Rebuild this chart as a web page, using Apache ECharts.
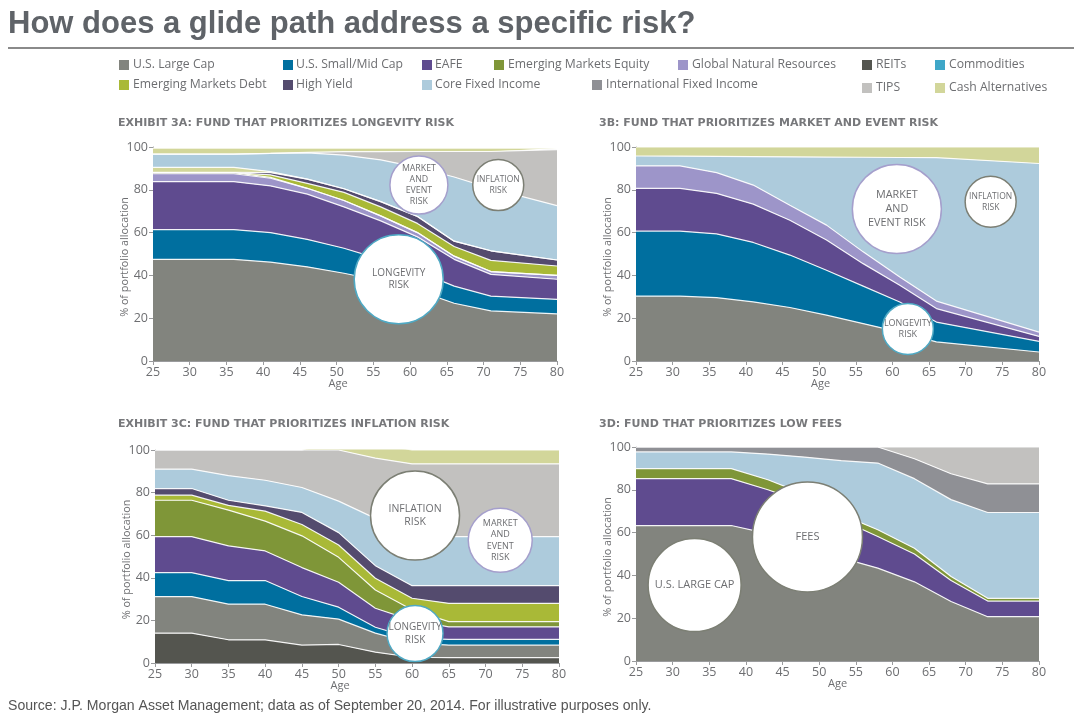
<!DOCTYPE html>
<html>
<head>
<meta charset="utf-8">
<title>Glide path risk</title>
<script src="https://cdn.jsdelivr.net/npm/echarts@6/dist/echarts.min.js"></script>
<style>
  html, body { margin: 0; padding: 0; background: #fff; }
  #chart { width: 1074px; height: 718px; }
</style>
</head>
<body>
<div id="chart"></div>
<script>
// ---------------- data (band thickness, % of portfolio) ----------------

const agesA = [25, 36, 41, 46, 51, 56, 61, 66, 71, 80];
const a_largeCap = [47.5, 47.5, 46.2, 44, 41, 37.5, 33, 27, 23.4, 22];
const a_smallMid = [13.9, 13.9, 13.8, 12.8, 11.7, 10, 9, 8, 6.9, 6.8];
const a_eafe = [22.4, 22.4, 21.8, 21.2, 19.3, 18, 16, 12.5, 10.2, 9.4];
const a_natRes = [3.7, 3.7, 3.6, 2.7, 3, 2.3, 2, 1.5, 1.3, 1.8];
const a_reits = [0.5, 0.5, 0.4, 0, 0, 0, 0, 0, 0, 0];
const a_emDebt = [0, 0, 1.2, 2.3, 3.8, 4.2, 4.3, 4.5, 5.2, 4.4];
const a_highYield = [0.2, 0.2, 1, 2, 1.7, 2.5, 3.2, 2.5, 4.5, 2.8];
const a_cashLow = [2.3, 2.3, 0.5, 0, 0, 0, 0, 0, 0, 0];
const a_core = [6.2, 6.2, 8.5, 12.3, 15.7, 19.5, 23, 30, 29.2, 25.4];
const a_tips = [0, 0, 0, 0.2, 1.6, 3.8, 7.4, 11.9, 17.2, 26.2];
const a_cash = [2.8, 2.8, 2.5, 2, 1.7, 1.7, 1.6, 1.6, 1.6, 0.7];

const agesB = [25, 31, 36, 41, 46, 51, 56, 61, 66, 80];
const b_largeCap = [30.3, 30.3, 29.6, 27.6, 25, 21.4, 17.5, 13.5, 8.9, 4.2];
const b_smallMid = [30.4, 30.4, 29.8, 27.8, 24.5, 21, 17.5, 14.1, 9.3, 5];
const b_eafe = [20, 20, 18.9, 17.9, 16.3, 14.1, 10.5, 7.8, 6.3, 2.3];
const b_natRes = [10.5, 10.5, 9.7, 8.9, 7, 7, 5.5, 3.9, 3.5, 2];
const b_core = [4.6, 4.5, 7.6, 13.3, 22.6, 31.8, 44.2, 55.8, 67, 78.8];
const b_cash = [4.2, 4.3, 4.4, 4.5, 4.6, 4.7, 4.8, 4.9, 5, 7.7];

const agesC = [25, 30, 35, 40, 45, 50, 55, 60, 65, 80];
const c_reits = [14, 14, 10.9, 10.9, 8.4, 8.7, 5.1, 2.7, 2.5, 2.5];
const c_largeCap = [17.2, 17.2, 16.7, 16.7, 14.2, 11.9, 8.9, 6.7, 5.9, 5.9];
const c_smallMid = [11.2, 11.2, 11.1, 11.1, 8.6, 5.6, 2.8, 2.3, 2.7, 2.7];
const c_eafe = [16.9, 16.9, 16.3, 13.9, 13.6, 11.7, 8.9, 8.3, 5.9, 5.9];
const c_emEquity = [17.1, 17.1, 16.8, 14, 14.9, 11.7, 8.6, 5, 2.4, 2.4];
const c_emDebt = [2.4, 2.4, 2.2, 4.7, 5.3, 5.8, 5.5, 5.4, 8.6, 8.6];
const c_highYield = [3.1, 3.1, 2.4, 2.5, 5.7, 5.8, 5.9, 5.9, 8.3, 8.3];
const c_core = [9.1, 9.1, 11.6, 12, 11.7, 14.8, 22.2, 23.7, 23, 23];
const c_tips = [9, 9, 12, 14.2, 17.6, 24, 28.3, 33.5, 34.2, 34.2];
const c_cash = [0, 0, 0, 0, 0, 3.8, 6.5, 6.5, 6.5, 6.5];

const agesD = [25, 38, 43, 48, 53, 58, 63, 68, 73, 80];
const d_largeCap = [63.3, 63.3, 59.5, 55, 48.2, 43.4, 37, 27.8, 20.7, 20.7];
const d_eafe = [21.9, 21.9, 20.5, 19, 17.8, 14.8, 13, 9.8, 7.3, 7.3];
const d_emEquity = [4.7, 4.7, 4.7, 4, 2.5, 3.1, 2.7, 1.9, 1.3, 1.3];
const d_core = [7.8, 7.8, 12, 17.3, 25.1, 31.2, 32.5, 35.9, 40.1, 40.1];
const d_intlFixed = [2.3, 2.3, 3.3, 4.7, 6.4, 7.5, 9.3, 12.1, 13.4, 13.4];
const d_tips = [0, 0, 0, 0, 0, 0, 5.5, 12.5, 17.2, 17.2];

const legendRow1 = ["U.S. Large Cap", "U.S. Small/Mid Cap", "EAFE", "Emerging Markets Equity", "Global Natural Resources", "REITs", "Commodities"];
const legendRow2 = ["Emerging Markets Debt", "High Yield", "Core Fixed Income", "International Fixed Income", "TIPS", "Cash Alternatives"];

// ---------------- styles and layout ----------------

const COLORS = {
    "U.S. Large Cap": "#82847e",
    "U.S. Small/Mid Cap": "#006f9f",
    "EAFE": "#5f4b8f",
    "Emerging Markets Equity": "#7f9638",
    "Global Natural Resources": "#9d95c9",
    "REITs": "#54554f",
    "Commodities": "#3fa7c8",
    "Emerging Markets Debt": "#a9b937",
    "High Yield": "#544b6e",
    "Core Fixed Income": "#adcbdc",
    "International Fixed Income": "#8f9095",
    "TIPS": "#c2c1bf",
    "Cash Alternatives": "#d2d69a",
};

const TEXT = "#6d6e71";
const UI_FONT = "'Open Sans', sans-serif";

const LEGEND_POS = {
    "U.S. Large Cap": [119, 60], "U.S. Small/Mid Cap": [283, 60], "EAFE": [422, 60],
    "Emerging Markets Equity": [494, 60], "Global Natural Resources": [678, 60],
    "REITs": [862, 60], "Commodities": [935, 60],
    "Emerging Markets Debt": [119, 80], "High Yield": [283, 80], "Core Fixed Income": [422, 80],
    "International Fixed Income": [592, 80], "TIPS": [862, 83], "Cash Alternatives": [935, 83],
};

const TEAL = "#4fa9c4", LILAC = "#a59fcc", OLIVE = "#7c7f74";

const panels = [
    {
        title: "EXHIBIT 3A: FUND THAT PRIORITIZES LONGEVITY RISK", titlePos: [118, 118],
        grid: { left: 153, top: 147, width: 404, height: 214 }, ages: agesA, agePad: 34,
        bands: [
            ["U.S. Large Cap", a_largeCap], ["U.S. Small/Mid Cap", a_smallMid], ["EAFE", a_eafe],
            ["Global Natural Resources", a_natRes], ["REITs", a_reits], ["Emerging Markets Debt", a_emDebt],
            ["High Yield", a_highYield], ["Cash Alternatives", a_cashLow], ["Core Fixed Income", a_core],
            ["TIPS", a_tips], ["Cash Alternatives", a_cash],
        ],
        bubbles: [
            { at: [58.45, 38.2], size: 89, border: TEAL, text: "LONGEVITY\nRISK", font: 10 },
            { at: [61.2, 82.2], size: 58, border: LILAC, text: "MARKET\nAND\nEVENT\nRISK", font: 8.8 },
            { at: [72, 82.2], size: 51, border: OLIVE, text: "INFLATION\nRISK", font: 8.5 },
        ],
    },
    {
        title: "3B: FUND THAT PRIORITIZES MARKET AND EVENT RISK", titlePos: [599, 118],
        grid: { left: 636, top: 147, width: 403, height: 214 }, ages: agesB, agePad: 34,
        bands: [
            ["U.S. Large Cap", b_largeCap], ["U.S. Small/Mid Cap", b_smallMid], ["EAFE", b_eafe],
            ["Global Natural Resources", b_natRes], ["Core Fixed Income", b_core], ["Cash Alternatives", b_cash],
        ],
        bubbles: [
            { at: [60.6, 71], size: 89, border: LILAC, text: "MARKET\nAND\nEVENT RISK", font: 10.8 },
            { at: [73.4, 74.4], size: 51, border: OLIVE, text: "INFLATION\nRISK", font: 8.5 },
            { at: [62.1, 15], size: 51, border: TEAL, text: "LONGEVITY\nRISK", font: 9 },
        ],
    },
    {
        title: "EXHIBIT 3C: FUND THAT PRIORITIZES INFLATION RISK", titlePos: [118, 419],
        grid: { left: 155, top: 450, width: 404, height: 213 }, ages: agesC, agePad: 34,
        bands: [
            ["REITs", c_reits], ["U.S. Large Cap", c_largeCap], ["U.S. Small/Mid Cap", c_smallMid], ["EAFE", c_eafe],
            ["Emerging Markets Equity", c_emEquity], ["Emerging Markets Debt", c_emDebt], ["High Yield", c_highYield],
            ["Core Fixed Income", c_core], ["TIPS", c_tips], ["Cash Alternatives", c_cash],
        ],
        bubbles: [
            { at: [60.4, 69.2], size: 89, border: OLIVE, text: "INFLATION\nRISK", font: 10.5 },
            { at: [72, 57.6], size: 64, border: LILAC, text: "MARKET\nAND\nEVENT\nRISK", font: 9 },
            { at: [60.4, 13.8], size: 56, border: TEAL, text: "LONGEVITY\nRISK", font: 10 },
        ],
    },
    {
        title: "3D: FUND THAT PRIORITIZES LOW FEES", titlePos: [599, 419],
        grid: { left: 636, top: 447, width: 403, height: 214 }, ages: agesD, agePad: 0,
        bands: [
            ["U.S. Large Cap", d_largeCap], ["EAFE", d_eafe], ["Emerging Markets Equity", d_emEquity],
            ["Core Fixed Income", d_core], ["International Fixed Income", d_intlFixed], ["TIPS", d_tips],
        ],
        bubbles: [
            { at: [33, 35.5], size: 93, border: OLIVE, text: "U.S. LARGE CAP", font: 11 },
            { at: [48.4, 58], size: 110, border: OLIVE, text: "FEES", font: 11 },
        ],
    },
];

// ---------------- option builders ----------------

function buildAxes(p, i) {
    const axisLine = { lineStyle: { color: "#9a9b9d", width: 1 } };
    const axisTick = { length: 4, lineStyle: { color: "#9a9b9d" } };
    const axisLabel = { color: TEXT, fontFamily: UI_FONT, fontSize: 12.5, margin: 5 };
    return {
        x: {
            type: "value", gridIndex: i, min: 25, max: 80, interval: 5,
            name: "Age", nameLocation: "middle", nameGap: 17, nameMoveOverlap: false,
            nameTextStyle: { color: TEXT, fontFamily: UI_FONT, fontSize: 11, padding: [0, p.agePad, 0, 0] },
            splitLine: { show: false }, axisLine, axisTick, axisLabel,
        },
        y: {
            type: "value", gridIndex: i, min: 0, max: 100, interval: 20,
            name: "% of portfolio allocation", nameLocation: "middle", nameGap: 23, nameMoveOverlap: false,
            nameTextStyle: { color: TEXT, fontFamily: UI_FONT, fontSize: 10.8, padding: [0, 6, 0, 0] },
            splitLine: { show: false }, axisLine, axisTick, axisLabel,
        },
    };
}

function buildSeries(p, i) {
    const out = p.bands.map(([name, values]) => ({
        name,
        type: "line",
        stack: "panel" + i,
        xAxisIndex: i,
        yAxisIndex: i,
        symbol: "none",
        silent: true,
        // value first: ECharts stacks the first numeric dimension
        encode: { x: 1, y: 0 },
        lineStyle: { color: "#fff", width: 1.2, opacity: 0.9 },
        areaStyle: { color: COLORS[name], opacity: 1 },
        data: values.map((v, k) => [v, p.ages[k]]),
    }));

    // risk callouts
    p.bubbles.forEach((b) => {
        out.push({
            type: "scatter",
            xAxisIndex: i,
            yAxisIndex: i,
            z: 5,
            silent: true,
            symbolSize: b.size,
            itemStyle: { color: "#fff", borderColor: b.border, borderWidth: 1.5, opacity: 1 },
            label: {
                show: true, position: "inside", color: TEXT, fontFamily: UI_FONT,
                fontSize: b.font, lineHeight: b.font * 1.28, align: "center",
                formatter: () => b.text,
            },
            data: [b.at],
        });
    });
    return out;
}

function buildLegend() {
    const g = [];
    [...legendRow1, ...legendRow2].forEach((name) => {
        const [x, y] = LEGEND_POS[name];
        g.push({ type: "rect", left: x, top: y, shape: { width: 10, height: 10 }, style: { fill: COLORS[name] } });
        g.push({
            type: "text", left: x + (x === 422 || x === 283 ? 13 : 14), top: y - 1,
            style: { text: name, fill: TEXT, font: "12.2px " + UI_FONT },
        });
    });
    return g;
}

// ---------------- chart ----------------

const axes = panels.map(buildAxes);

const titles = [
    {
        text: "How does a glide path address a specific risk?", left: 8, top: 9, padding: 0,
        textStyle: { color: "#5f6368", fontFamily: "'Liberation Sans', Arial, sans-serif", fontWeight: "bold", fontSize: 31 },
    },
    {
        text: "Source: J.P. Morgan Asset Management; data as of September 20, 2014. For illustrative purposes only.", left: 8, top: 699, padding: 0,
        textStyle: { color: "#555", fontFamily: "'Liberation Sans', Arial, sans-serif", fontWeight: "normal", fontSize: 14.1 },
    },
    ...panels.map((p) => ({
        text: p.title, left: p.titlePos[0], top: p.titlePos[1], padding: 0,
        textStyle: { color: "#77787b", fontFamily: "'DejaVu Sans', sans-serif", fontWeight: "bold", fontSize: 11 },
    })),
];

const chart = echarts.init(document.getElementById("chart"));
chart.setOption({
    animation: false,
    backgroundColor: "#fff",
    title: titles,
    grid: panels.map((p) => ({ ...p.grid, containLabel: false })),
    xAxis: axes.map((a) => a.x),
    yAxis: axes.map((a) => a.y),
    series: panels.flatMap(buildSeries),
    graphic: [
        { type: "rect", left: 8, top: 47, shape: { width: 1066, height: 2 }, style: { fill: "#8a8a8a" } },
        ...buildLegend(),
    ],
});
</script>
</body>
</html>
